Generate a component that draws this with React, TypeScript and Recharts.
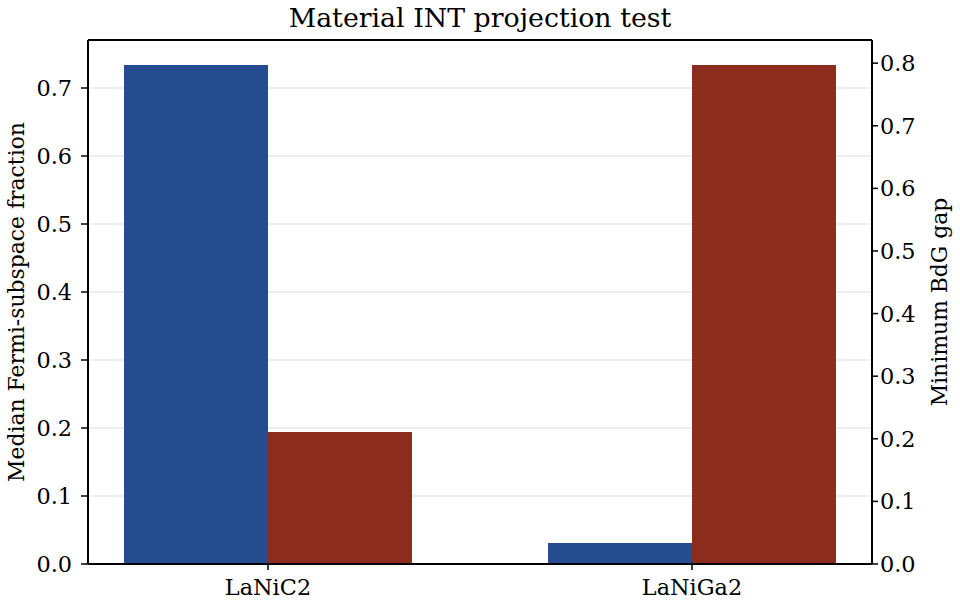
import React from "react";
import { ComposedChart, Bar, XAxis, YAxis, CartesianGrid, ReferenceLine } from "recharts";

const categories = ["LaNiC2", "LaNiGa2"];
const fermiFraction = [0.734, 0.031];
const bdgGap = [0.211, 0.797];
const leftTicks = [0, 0.1, 0.2, 0.3, 0.4, 0.5, 0.6, 0.7];
const rightTicks = [0, 0.1, 0.2, 0.3, 0.4, 0.5, 0.6, 0.7, 0.8];

const data = categories.map((c, i) => ({ idx: i, name: c, frac: fermiFraction[i], gap: bdgGap[i] }));

const FONT = "DejaVu Serif";
const tickStyle = { fontFamily: FONT, fontSize: 22.4, fill: "#000" };
const labelStyle = { fontFamily: FONT, fontSize: 21.9, fill: "#000", textAnchor: "middle" as const };

export default function App() {
  return (
    <div style={{ position: "absolute", left: 0, top: 0, width: 960, height: 608, background: "#fff" }}>
      <div style={{ position: "absolute", left: 0, top: 1, width: 960, textAlign: "center", fontFamily: FONT, fontSize: 26.8, lineHeight: "34px", color: "#000" }}>
        Material INT projection test
      </div>
      <ComposedChart width={960} height={608} data={data} margin={{ top: 40, right: 0, bottom: 0, left: 0 }} barGap={0}>
        <XAxis
          dataKey="idx"
          type="number"
          domain={[-0.4245, 1.4245]}
          ticks={[0, 1]}
          allowDataOverflow
          tickFormatter={(v: number) => categories[v] ?? ""}
          height={44}
          tick={tickStyle}
          tickSize={6}
          tickMargin={9}
          stroke="#000"
          strokeWidth={2}
          tickLine={{ stroke: "#000", strokeWidth: 1.5 }}
        />
        <YAxis
          yAxisId="left"
          orientation="left"
          domain={[0, 0.7706]}
          ticks={leftTicks}
          allowDataOverflow
          width={88}
          tick={tickStyle}
          tickSize={7}
          tickMargin={9}
          tickFormatter={(v: number) => v.toFixed(1)}
          stroke="#000"
          strokeWidth={2}
          tickLine={{ stroke: "#000", strokeWidth: 1.5 }}
          label={{ value: "Median Fermi-subspace fraction", angle: -90, position: "insideLeft", dx: 11, dy: 0, style: labelStyle }}
        />
        <YAxis
          yAxisId="right"
          orientation="right"
          domain={[0, 0.837]}
          ticks={rightTicks}
          allowDataOverflow
          width={88}
          tick={tickStyle}
          tickSize={6}
          tickMargin={2}
          tickFormatter={(v: number) => v.toFixed(1)}
          stroke="#000"
          strokeWidth={2}
          tickLine={{ stroke: "#000", strokeWidth: 1.5 }}
          label={{ value: "Minimum BdG gap", angle: -90, position: "insideRight", dx: -16, style: labelStyle }}
        />
        <Bar yAxisId="left" dataKey="frac" fill="#244c8e" barSize={144} isAnimationActive={false} />
        <CartesianGrid yAxisId="left" vertical={false} stroke="#b0b0b0" strokeOpacity={0.22} strokeWidth={2} />
        <Bar yAxisId="right" dataKey="gap" fill="#8b2c1c" barSize={144} isAnimationActive={false} />
        <ReferenceLine yAxisId="left" y={0.7706} stroke="#000" strokeWidth={2} ifOverflow="extendDomain" />
      </ComposedChart>
    </div>
  );
}
